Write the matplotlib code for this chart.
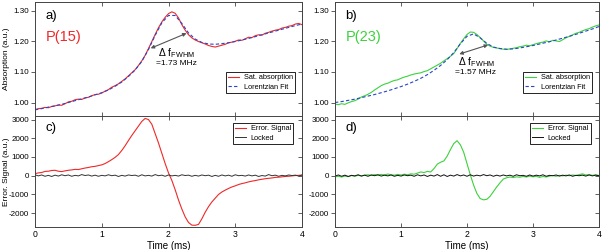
import matplotlib
matplotlib.use("Agg")
import matplotlib.pyplot as plt
import numpy as np

plt.rcParams["font.family"] = ["Liberation Sans", "DejaVu Sans"]
plt.rcParams["mathtext.fontset"] = "custom"
plt.rcParams["mathtext.rm"] = "Liberation Sans"
plt.rcParams["mathtext.it"] = "Liberation Sans"
plt.rcParams["axes.unicode_minus"] = False

# ---- data ----
# saturated absorption, P(15), 0.05 ms steps
abs_p15 = [0.977, 0.980, 0.981, 0.984, 0.983, 0.987, 0.989, 0.992, 0.991, 0.996,
           1.002, 1.004, 1.009, 1.011, 1.010, 1.015, 1.017, 1.022, 1.026, 1.027,
           1.031, 1.037, 1.042, 1.050, 1.055, 1.061, 1.069, 1.077, 1.087, 1.097,
           1.107, 1.121, 1.136, 1.154, 1.176, 1.199, 1.222, 1.244, 1.263, 1.278,
           1.290, 1.296, 1.291, 1.276, 1.254, 1.236, 1.221, 1.211, 1.204, 1.199,
           1.195, 1.191, 1.186, 1.183, 1.181, 1.184, 1.187, 1.190, 1.195, 1.197,
           1.200, 1.204, 1.203, 1.208, 1.213, 1.212, 1.218, 1.221, 1.220, 1.226,
           1.229, 1.233, 1.236, 1.238, 1.243, 1.245, 1.249, 1.251, 1.256, 1.258,
           1.254]
# Lorentzian fit, P(15), 0.1 ms steps
fit_p15 = [0.976, 0.980, 0.985, 0.989, 0.994, 1.000, 1.006, 1.012, 1.018, 1.025,
           1.032, 1.041, 1.053, 1.067, 1.085, 1.106, 1.134, 1.173, 1.219, 1.260,
           1.284, 1.284, 1.258, 1.227, 1.207, 1.196, 1.191, 1.190, 1.192, 1.195,
           1.199, 1.204, 1.209, 1.215, 1.221, 1.227, 1.233, 1.239, 1.245, 1.251,
           1.256]
# saturated absorption, P(23), 0.05 ms steps
abs_p23 = [0.995, 0.993, 0.996, 0.994, 0.999, 1.003, 1.006, 1.011, 1.018, 1.022,
           1.027, 1.033, 1.041, 1.048, 1.055, 1.060, 1.063, 1.068, 1.072, 1.074,
           1.079, 1.083, 1.086, 1.090, 1.093, 1.095, 1.097, 1.101, 1.104, 1.110,
           1.116, 1.122, 1.128, 1.136, 1.143, 1.151, 1.160, 1.176, 1.193, 1.208,
           1.222, 1.230, 1.229, 1.222, 1.212, 1.201, 1.190, 1.184, 1.180, 1.178,
           1.176, 1.174, 1.173, 1.175, 1.177, 1.179, 1.182, 1.184, 1.187, 1.185,
           1.189, 1.192, 1.195, 1.197, 1.201, 1.198, 1.203, 1.201, 1.199, 1.205,
           1.211, 1.216, 1.221, 1.226, 1.229, 1.234, 1.238, 1.241, 1.246, 1.250,
           1.253]
fit_p23 = [1.000, 1.003, 1.007, 1.011, 1.016, 1.021, 1.026, 1.032, 1.038, 1.045,
           1.052, 1.060, 1.069, 1.079, 1.091, 1.105, 1.121, 1.140, 1.163, 1.192,
           1.216, 1.224, 1.211, 1.193, 1.181, 1.176, 1.174, 1.175, 1.178, 1.182,
           1.186, 1.191, 1.196, 1.201, 1.207, 1.213, 1.219, 1.226, 1.233, 1.240,
           1.248]
# error signals, 0.05 ms steps
err_p15 = [110, 150, 170, 230, 240, 280, 290, 240, 220, 260,
           290, 310, 340, 330, 370, 410, 440, 480, 500, 540,
           580, 650, 750, 860, 980, 1130, 1350, 1600, 1880, 2150,
           2400, 2650, 2900, 3060, 3000, 2750, 2250, 1750, 1200, 650,
           150, -250, -750, -1300, -1780, -2200, -2500, -2640, -2650, -2600,
           -2300, -1950, -1650, -1400, -1200, -1000, -870, -770, -680, -600,
           -540, -470, -420, -380, -330, -290, -260, -220, -190, -160,
           -140, -120, -90, -80, -60, -40, -30, -10, 10, 20,
           30]
locked_p15 = [50, -10, 40, -30, 20, -40, 30, -20, 50, 0,
              40, -30, 20, -10, 60, 10, 40, -20, 30, -30,
              20, -10, 50, 0, 30, -40, 20, -20, 40, 10,
              30, -30, 50, -10, 20, -20, 60, 0, 30, -30,
              40, -10, 20, -20, 50, 10, 30, -30, 20, -20,
              40, 0, 30, -40, 20, -30, 40, -10, 30, -30,
              50, 0, 20, -20, 40, -10, 30, -40, 10, -20,
              60, 0, 30, -30, 20, -10, 40, 10, 30, -20,
              40]
err_p23 = [-60, -30, -70, -20, -50, 10, -30, 20, -10, 30,
           50, 20, 60, 30, 70, 40, 90, 50, 30, 70,
           40, 80, 50, 100, 80, 140, 200, 170, 230, 200,
           380, 620, 720, 790, 1050, 1400, 1720, 1870, 1650, 1250,
           650, 50, -500, -950, -1220, -1290, -1260, -1100, -850, -600,
           -380, -180, -110, -70, -100, -60, -80, -40, -70, -20,
           -60, -30, -90, -40, -70, -20, 10, -30, 20, -10,
           30, 0, 40, 10, 60, 100, 40, 60, 20, 50,
           10]
locked_p23 = [-20, 40, -30, 30, -40, 20, -10, 50, -20, 30,
              -30, 40, 0, 50, -20, 30, -10, 40, -30, 20,
              -20, 40, 0, 30, -30, 50, -10, 40, -40, 30,
              -20, 60, -30, 50, -40, 30, -20, 60, -10, 40,
              -30, 50, -20, 30, -10, 60, 0, 40, -30, 30,
              -20, 40, -10, 30, -30, 50, 0, 20, -30, 40,
              -20, 30, -10, 50, -30, 20, 0, 40, -20, 30,
              -10, 40, -30, 20, 0, 30, -20, 40, -10, 30,
              0]

RED = "#f02828"
GREEN = "#3cd23c"
BLUE = "#2846c8"
SPINE = "#444444"


def t_axis(values):
    return np.linspace(0, 4, len(values))


def style(ax, ylim, yticks, show_xlabels):
    ax.set_xlim(0, 4)
    ax.set_ylim(*ylim)
    ax.set_xticks([0, 1, 2, 3, 4])
    ax.set_yticks(yticks)
    ax.tick_params(axis="x", direction="in", top=True, bottom=True, length=3,
                   width=0.6, color=SPINE, labelsize=6.2, pad=2.5,
                   labelbottom=show_xlabels)
    ax.tick_params(axis="y", direction="out", left=True, right=False, length=3,
                   width=0.6, color=SPINE, labelsize=5.8, pad=1.2)
    for s in ax.spines.values():
        s.set_color(SPINE)
        s.set_linewidth(0.7)
    sec = ax.secondary_yaxis("right")
    sec.set_yticks(yticks)
    sec.tick_params(direction="in", length=3, width=0.6, color=SPINE, labelright=False)
    sec.spines["right"].set_color(SPINE)
    sec.spines["right"].set_linewidth(0.7)


def legend(ax, loc, anchor):
    leg = ax.legend(loc=loc, bbox_to_anchor=anchor, fontsize=5.3, handlelength=1.5,
                    fancybox=False, framealpha=1, borderpad=0.35, labelspacing=0.3,
                    handletextpad=0.6, borderaxespad=0)
    leg.get_frame().set_edgecolor("black")
    leg.get_frame().set_linewidth(0.6)


fig = plt.figure(figsize=(6.05, 2.5), dpi=100)
W, H = 605.0, 250.0
cols = [(35, 302), (335, 599)]
rows = [(2, 116), (116, 227)]


def make_ax(c, r):
    x0, x1 = cols[c]
    y0, y1 = rows[r]
    return fig.add_axes([x0 / W, 1 - y1 / H, (x1 - x0) / W, (y1 - y0) / H])


abs_ylim = (0.956, 1.328)
abs_ticks = [1.00, 1.10, 1.20, 1.30]
err_ylim = (-2740, 3190)
err_ticks = [-2000, -1000, 0, 1000, 2000, 3000]

panels = [
    (0, abs_p15, fit_p15, err_p15, locked_p15, RED, "#333333", "P(15)", "a)", "c)",
     "=1.73 MHz", (1.733, 1.177), (2.27, 1.226), (1.84, 1.160), (1.82, 1.127)),
    (1, abs_p23, fit_p23, err_p23, locked_p23, GREEN, "#111111", "P(23)", "b)", "d)",
     "=1.57 MHz", (1.883, 1.158), (2.32, 1.188), (1.86, 1.131), (1.82, 1.098)),
]

for (c, absd, fit, err, locked, col, lockcol, pname, lab_top, lab_bot,
     width_txt, a0, a1, tpos, wpos) in panels:
    ax = make_ax(c, 0)
    ax.plot(t_axis(absd), absd, color=col, lw=0.8, label="Sat. absorption")
    ax.plot(t_axis(fit), fit, color=BLUE, lw=0.8, ls=(0, (3, 2)), label="Lorentzian Fit")
    style(ax, abs_ylim, abs_ticks, False)
    ax.set_yticklabels([f"{v:.2f}" for v in abs_ticks])
    legend(ax, "lower right", (0.975, 0.2))
    ax.text(0.04, 0.88, lab_top, transform=ax.transAxes, fontsize=9.5, va="center")
    ax.text(0.04, 0.69, pname, transform=ax.transAxes, fontsize=10.5, color=col, va="center")
    ax.annotate("", xy=a0, xytext=a1,
                arrowprops=dict(arrowstyle="<|-|>", color="#555555", lw=0.8,
                                mutation_scale=5, shrinkA=0, shrinkB=0))
    ax.text(tpos[0], tpos[1], r"$\Delta$ f$_{\rm FWHM}$", fontsize=7.5, va="center")
    ax.text(wpos[0], wpos[1], width_txt, fontsize=6, va="center")
    if c == 0:
        ax.set_ylabel("Absorption (a.u.)", fontsize=6)
        ax.yaxis.set_label_coords(-0.0955, 0.5)

    bx = make_ax(c, 1)
    bx.plot(t_axis(err), err, color=col, lw=0.8, label="Error. Signal")
    bx.plot(t_axis(locked), locked, color=lockcol, lw=0.7, label="Locked")
    style(bx, err_ylim, err_ticks, True)
    legend(bx, "upper right", (0.968, 0.94))
    bx.text(0.04, 0.89, lab_bot, transform=bx.transAxes, fontsize=9.5, va="center")
    bx.set_xlabel("Time (ms)", fontsize=7, labelpad=1)
    if c == 0:
        bx.set_ylabel("Error. Signal (a.u.)", fontsize=6)
        bx.yaxis.set_label_coords(-0.0955, 0.5)

fig.savefig("out.png", dpi=100)
